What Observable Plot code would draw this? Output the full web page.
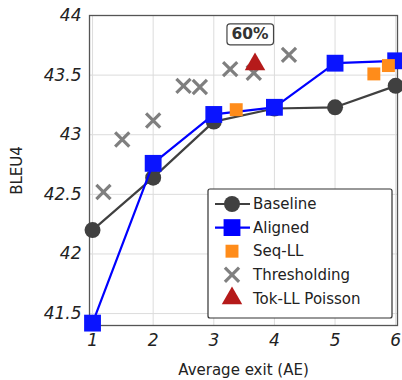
<!DOCTYPE html>
<html><head><meta charset="utf-8">
<script src="https://cdn.jsdelivr.net/npm/d3@7"></script>
<script src="https://cdn.jsdelivr.net/npm/@observablehq/plot@0.6"></script>
<style>
html,body{margin:0;padding:0;background:#fff;}
svg text{font-family:"DejaVu Sans",sans-serif;}
</style>
</head><body>
<div id="chart"></div>
<script>
const xTicks = [1, 2, 3, 4, 5, 6];
const yTicks = [41.5, 42, 42.5, 43, 43.5, 44];

const baselineX = [1, 2, 3, 4, 5, 6];
const baselineY = [42.2, 42.64, 43.11, 43.22, 43.23, 43.41];

const alignedX = [1, 2, 3, 4, 5, 6];
const alignedY = [41.42, 42.76, 43.17, 43.23, 43.6, 43.62];

const seqX = [3.37, 5.64, 5.88];
const seqY = [43.21, 43.51, 43.58];

const threshX = [1.18, 1.49, 2.0, 2.5, 2.77, 3.27, 3.66, 4.24];
const threshY = [42.52, 42.96, 43.12, 43.41, 43.40, 43.55, 43.52, 43.67];

const poissonX = [3.68];
const poissonY = [43.59];
const poissonLabel = ["60%"];

const legendNames = ["Baseline", "Aligned", "Seq-LL", "Thresholding", "Tok-LL Poisson"];
const legendColors = ["#404040", "#0000ff", "#ff8c1a", "#808080", "#b51a1a"];
const legendSymbols = ["circle", "square", "square", "times", "triangle"];
const legendLines = [true, true, false, false, false];

const zip = (xs, ys) => xs.map((x, i) => ({x, y: ys[i]}));
const baseline = zip(baselineX, baselineY);
const aligned = zip(alignedX, alignedY);
const seq = zip(seqX, seqY);
const thresh = zip(threshX, threshY);
const poisson = zip(poissonX, poissonY).map((d, i) => ({...d, label: poissonLabel[i]}));

const plot = Plot.plot({
  width: 402,
  height: 380,
  marginLeft: 89,
  marginRight: 5,
  marginTop: 15,
  marginBottom: 55,
  style: {fontFamily: "DejaVu Sans, sans-serif", background: "#fff"},
  x: {domain: [0.95, 6.03]},
  y: {domain: [41.4, 44]},
  marks: [
    Plot.gridX(xTicks, {stroke: "#dcdcdc", strokeOpacity: 1, strokeWidth: 1}),
    Plot.gridY(yTicks, {stroke: "#dcdcdc", strokeOpacity: 1, strokeWidth: 1}),
    Plot.axisX(xTicks, {tickSize: 0, tickPadding: 8, fontSize: 17, fontStyle: "italic", fill: "#222",
      tickFormat: d => `${d}`,
      label: "Average exit (AE)", labelAnchor: "center", labelArrow: "none", labelOffset: 49}),
    Plot.axisY(yTicks, {tickSize: 0, tickPadding: 8, fontSize: 17, fontStyle: "italic", fill: "#222",
      tickFormat: d => `${d}`,
      label: "BLEU4", labelAnchor: "center", labelArrow: "none", labelOffset: 78}),
    Plot.frame({stroke: "#555", strokeWidth: 1.3}),
    Plot.line(baseline, {x: "x", y: "y", stroke: "#404040", strokeWidth: 2.2}),
    Plot.dot(baseline, {x: "x", y: "y", r: 8, fill: "#404040", symbol: "circle"}),
    Plot.line(aligned, {x: "x", y: "y", stroke: "#0000ff", strokeWidth: 2.2}),
    Plot.dot(aligned, {x: "x", y: "y", r: 9.5, fill: "#0a14ff", symbol: "square"}),
    Plot.dot(seq, {x: "x", y: "y", r: 7.3, fill: "#ff8c1a", symbol: "square"}),
    Plot.dot(thresh, {x: "x", y: "y", r: 6.5, stroke: "#7f7f7f", strokeWidth: 3.2, symbol: "times"}),
    Plot.dot(poisson, {x: "x", y: "y", r: 7.6, fill: "#b51a1a", symbol: "triangle"}),
    Plot.text(poisson, {x: "x", y: "y", text: "label", dy: -30, dx: -5, fontSize: 15.5, fontWeight: "bold", fill: "#333"})
  ]
});
document.getElementById("chart").appendChild(plot);

const svg = d3.select(plot);
svg.selectAll("[aria-label='x-axis label'] text, [aria-label='y-axis label'] text")
  .style("font-size", "15px").style("font-style", "normal").attr("fill", "#222");

// box around annotation
svg.selectAll("g[aria-label='text'] text").each(function() {
  const b = this.getBBox();
  const t = this.getAttribute("transform");
  const r = d3.select(this.parentNode).insert("rect", "text")
    .attr("x", b.x - 4.5).attr("y", b.y - 1.5).attr("width", b.width + 9).attr("height", b.height + 3)
    .attr("rx", 3).attr("fill", "#fff").attr("stroke", "#444").attr("stroke-width", 1.2);
  if (t) r.attr("transform", t);
});

// legend
const lg = svg.append("g").attr("text-anchor", "start");
const lx = 208, ly = 189, lw = 184, lh = 129, rowH = 23.6, row0 = 204;
lg.append("rect").attr("x", lx).attr("y", ly).attr("width", lw).attr("height", lh)
  .attr("rx", 2).attr("fill", "#fff").attr("stroke", "#333").attr("stroke-width", 1.2);
const sizes = {circle: 8, square: 9.5, times: 6.5, triangle: 7.6};
legendNames.forEach((name, i) => {
  const cy = row0 + i * rowH;
  const color = legendColors[i];
  const sym = legendSymbols[i];
  const g = lg.append("g");
  if (legendLines[i]) g.append("line").attr("x1", 215).attr("x2", 250).attr("y1", cy).attr("y2", cy)
    .attr("stroke", color).attr("stroke-width", 2.2);
  let r = sizes[sym];
  if (i === 2) r = 7.3;
  const symType = {circle: d3.symbolCircle, square: d3.symbolSquare, times: d3.symbolTimes, triangle: d3.symbolTriangle}[sym];
  const path = d3.symbol(symType, Math.PI * r * r)();
  const p = g.append("path").attr("d", path).attr("transform", `translate(232,${cy})`);
  if (sym === "times") p.attr("fill", "none").attr("stroke", color).attr("stroke-width", 3.2);
  else p.attr("fill", color);
  g.append("text").attr("x", 253).attr("y", cy).attr("dy", "0.35em").attr("text-anchor", "start")
    .attr("font-size", 15).attr("fill", "#222").text(name);
});
</script>
</body></html>
